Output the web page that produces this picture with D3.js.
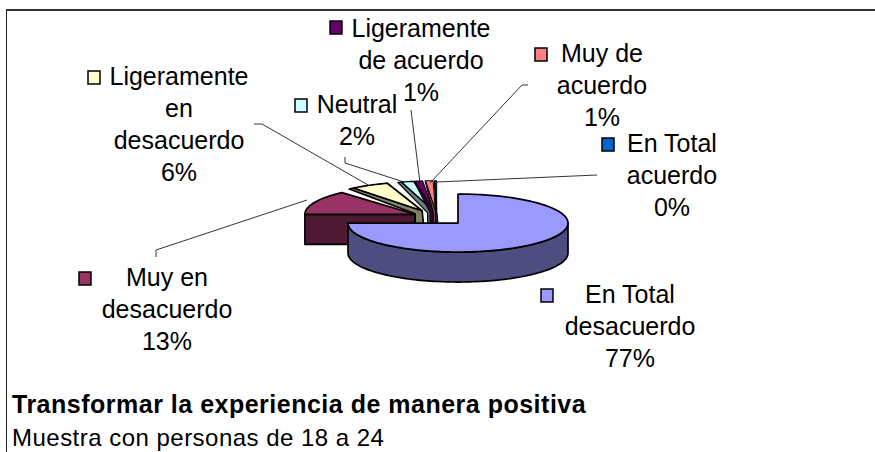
<!DOCTYPE html>
<html><head><meta charset="utf-8">
<script src="https://cdn.jsdelivr.net/npm/d3@7/dist/d3.min.js"></script>
<style>html,body{margin:0;padding:0;background:#fff}svg{display:block}text{font-family:"Liberation Sans",Arial,sans-serif;fill:#000}</style>
</head><body>
<svg id="c" width="875" height="452"></svg>
<script>
const categories=["En Total desacuerdo","Muy en desacuerdo","Ligeramente en desacuerdo","Neutral","Ligeramente de acuerdo","Muy de acuerdo","En Total acuerdo"];
const values=[76.6,12.6,6.0,2.2,1.2,1.1,0.3];
const percentLabels=["77%","13%","6%","2%","1%","1%","0%"];
const topColors=["#9999FF","#993366","#FFFFCC","#CCFFFF","#660066","#FF8080","#0066CC"];
const sideColors=["#4D4D80","#4D1933","#808066","#668080","#330033","#804040","#003366"];
const labelLines=[["En Total","desacuerdo"],["Muy en","desacuerdo"],["Ligeramente","en","desacuerdo"],["Neutral"],["Ligeramente","de acuerdo"],["Muy de","acuerdo"],["En Total","acuerdo"]];
const labelCenter=[[630,295],[167,278],[179,77],[357,105],[421,29],[602,54],[672,144]];
const keyPos=[[547,295],[85,278],[94,77],[301,105],[336,27],[541,54],[608,144]];
const leaders=[null,[[307,200],[156,250],[156,257]],[[368,185],[262,124],[254,124]],[[404,182],[345,163],[345,157]],[[420,183],[411,110]],[[430,183],[522,85],[528,85]],[[437,182],[597,175]]];
const sliceNudge=[0,5,0,3,0,0,0];
const wallInset=[0,0,3,2,0.8,0.3,0.2];
const wallWidth=[0,0,7,5,3,2,1];
const strokeWidths=[1.7,1.7,1.7,1.3,1,1,1];

const svg=d3.select("#c");
const cx=437,cy=217.5,rx=110,ry=29,depth=30,explode=0.27;
svg.append("path").attr("d","M875,10H6.5V452").attr("fill","none").attr("stroke","#222");
svg.append("path").attr("d","M875,10H6").attr("stroke","#333").attr("stroke-width",2);

const pie=d3.pie().sort(null).value(d=>d).startAngle(0).endAngle(2*Math.PI);
const arcs=pie(values);
// The old 3-D renderer flattens the first slice to a quarter-turn boundary
const split=arcs[0].endAngle;
const view=d3.scaleLinear().domain([0,split,2*Math.PI]).range([0,1.5*Math.PI,2*Math.PI]);
const xs=d3.scaleLinear().domain([-1,1]).range([-rx,rx]);
const ys=d3.scaleLinear().domain([-1,1]).range([ry,-ry]);
const line=d3.line().x(d=>d[0]).y(d=>d[1]);
function arcPts(a0,a1,ox,oy){const n=Math.max(2,Math.ceil((a1-a0)/0.03));return d3.range(n+1).map(i=>{const a=a0+(a1-a0)*i/n;return [ox+xs(Math.sin(a)),oy+ys(Math.cos(a))]})}
function drawSlice(d,i){
  const a0=view(d.startAngle),a1=view(d.endAngle),mid=(a0+a1)/2;
  const ox=cx+xs(explode*Math.sin(mid))+sliceNudge[i],oy=cy+ys(explode*Math.cos(mid));
  const g=svg.append("g");
  const sty=(p,f)=>p.attr("fill",f).attr("stroke","#000").attr("stroke-width",strokeWidths[i]).attr("stroke-linejoin","round");
  const pt=a=>[ox+xs(Math.sin(a)),oy+ys(Math.cos(a))];
  let faceStart=a0;
  if(i===0){
    const top=arcPts(Math.PI/2,1.5*Math.PI,ox,oy);
    sty(g.append("path").attr("d",line(top.concat(top.slice().reverse().map(p=>[p[0],p[1]+depth])))+"Z"),sideColors[i]);
  } else if(i===1){
    const s=pt(a0);
    sty(g.append("path").attr("d",line([[ox,oy],s,[s[0],s[1]+depth],[ox,oy+depth]])+"Z"),sideColors[i]);
  } else {
    faceStart=a0+wallInset[i]*Math.PI/180;
    const w=wallWidth[i];
    sty(g.append("path").attr("d",line([[ox,oy],pt(faceStart),pt(a0),[ox-w,oy+3],[ox-w,oy+depth],[ox+3,oy+depth]])+"Z"),sideColors[i]);
  }
  sty(g.append("path").attr("d",line([[ox,oy]].concat(arcPts(faceStart,a1,ox,oy)))+"Z"),topColors[i]);
}
arcs.forEach((d,i)=>{if(i>0)drawSlice(d,i)});
drawSlice(arcs[0],0);

leaders.forEach(l=>{if(l)svg.append("path").attr("d",line(l)).attr("fill","none").attr("stroke","#000").attr("stroke-width",0.8)});

const fs=25,lh=32;
categories.forEach((c,i)=>{
  const lines=labelLines[i].concat(percentLabels[i]);
  const t=svg.append("text").attr("text-anchor","middle").attr("font-size",fs);
  lines.forEach((s,j)=>t.append("tspan").attr("x",labelCenter[i][0]).attr("y",labelCenter[i][1]+8+j*lh).text(s));
  svg.append("rect").attr("x",keyPos[i][0]-6).attr("y",keyPos[i][1]-6).attr("width",12).attr("height",13).attr("fill",topColors[i]).attr("stroke","#000").attr("stroke-width",1.5);
});
svg.append("text").attr("x",12).attr("y",413).attr("font-size",25).attr("letter-spacing",0.5).attr("font-weight","bold").text("Transformar la experiencia de manera positiva");
svg.append("text").attr("x",12).attr("y",446).attr("font-size",24).attr("letter-spacing",0.48).text("Muestra con personas de 18 a 24");
</script></body></html>
